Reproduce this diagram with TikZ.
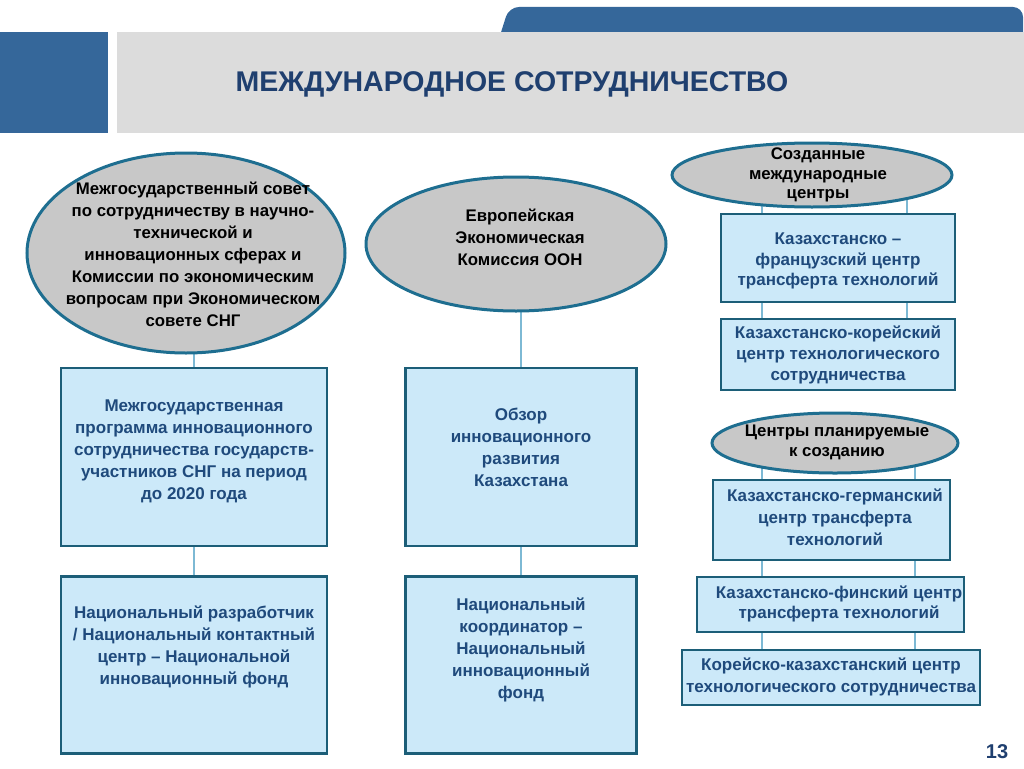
\documentclass[tikz,border=0pt]{standalone}
\usepackage{fontspec}
\setmainfont{Liberation Sans}
\usetikzlibrary{shapes.geometric,backgrounds}
\definecolor{headblue}{HTML}{35679A}
\definecolor{headgray}{HTML}{DCDCDC}
\definecolor{titleblue}{HTML}{1F3F6F}
\definecolor{ovalgray}{HTML}{C8C8C8}
\definecolor{ovalrim}{HTML}{1E6E90}
\definecolor{boxfill}{HTML}{CCE9F9}
\definecolor{boxrim}{HTML}{1C5E78}
\definecolor{boxink}{HTML}{1F4A7C}
\definecolor{linkblue}{HTML}{7DB9D4}

\begin{document}
\begin{tikzpicture}[
  x=1pt,
  y=-1pt,
  oval/.style={ellipse,draw=ovalrim,fill=ovalgray,line width=3pt,inner sep=0pt},
  box/.style={rectangle,draw=boxrim,fill=boxfill,line width=2.6pt,inner sep=0pt},
  ovaltext/.style={align=center,font=\fontsize{16.8}{22}\selectfont\bfseries,text=black},
  boxtext/.style={align=center,font=\fontsize{17}{22}\selectfont\bfseries,text=boxink},
  link/.style={draw=linkblue,line width=1.6pt}
]
  % Slide frame.
  \useasboundingbox (0,0) rectangle (1024,768);

  % Header: tab, square and grey band with the title.
  \fill[headblue,rounded corners=10pt] (497,45) -- (509,7) -- (1023,7) -- (1023,45) -- cycle;
  \fill[headblue] (0,32) rectangle (108,133);
  \fill[headgray] (117,32) rectangle (1024,133);
  \node[font=\fontsize{28.5}{30}\selectfont\bfseries,text=titleblue] (title) at (512,84)
    {МЕЖДУНАРОДНОЕ СОТРУДНИЧЕСТВО};

  % Left column: CIS council and its programme.
  \node[oval,minimum width=318pt,minimum height=200pt] (council) at (186,253) {};
  \node[ovaltext] (councilt) at (193,254) {Межгосударственный совет\\по сотрудничеству в научно-\\технической и\\инновационных сферах и\\Комиссии по экономическим\\вопросам при Экономическом\\совете СНГ};
  \node[box,minimum width=266pt,minimum height=178pt] (programme) at (194,457) {};
  \node[boxtext] (programmet) at (194,451) {Межгосударственная\\программа инновационного\\сотрудничества государств-\\участников СНГ на период\\до 2020 года};
  \node[box,minimum width=266pt,minimum height=177pt] (developer) at (194,665) {};
  \node[boxtext] (developert) at (194,647) {Национальный разработчик\\/ Национальный контактный\\центр – Национальной\\инновационный фонд};

  % Middle column: UNECE and the innovation review.
  \node[oval,minimum width=300pt,minimum height=134pt] (unece) at (516,244) {};
  \node[ovaltext] (unecet) at (520,237) {Европейская\\Экономическая\\Комиссия ООН};
  \node[box,minimum width=231pt,minimum height=178pt] (review) at (521,457) {};
  \node[boxtext] (reviewt) at (521,447) {Обзор\\инновационного\\развития\\Казахстана};
  \node[box,minimum width=231pt,minimum height=177pt] (coord) at (521,665) {};
  \node[boxtext] (coordt) at (521,650) {Национальный\\координатор –\\Национальный\\инновационный\\фонд};

  % Right column: centres already created.
  \node[oval,minimum width=280pt,minimum height=64pt] (created) at (812,175) {};
  \node[ovaltext,font=\fontsize{16.8}{19.5}\selectfont\bfseries] (createdt) at (818,175) {Созданные\\международные\\центры};
  \node[box,minimum width=234pt,minimum height=88pt] (frcentre) at (838,258) {};
  \node[boxtext,font=\fontsize{17}{20.5}\selectfont\bfseries] (frcentret) at (838,261) {Казахстанско –\\французский центр\\трансферта технологий};
  \node[box,minimum width=234pt,minimum height=71pt] (krcentre) at (838,354.5) {};
  \node[boxtext,font=\fontsize{17}{21}\selectfont\bfseries] (krcentret) at (838,355) {Казахстанско-корейский\\центр технологического\\сотрудничества};

  % Right column: centres planned.
  \node[oval,minimum width=246pt,minimum height=60pt] (planned) at (835,443) {};
  \node[ovaltext,font=\fontsize{16.8}{20}\selectfont\bfseries] (plannedt) at (837,442) {Центры планируемые\\к созданию};
  \node[box,minimum width=237pt,minimum height=80pt] (decentre) at (831.5,520) {};
  \node[boxtext] (decentret) at (835,517) {Казахстанско-германский\\центр трансферта\\технологий};
  \node[box,minimum width=267pt,minimum height=55pt] (ficentre) at (830.5,604.5) {};
  \node[boxtext,font=\fontsize{17}{20}\selectfont\bfseries] (ficentret) at (839,604) {Казахстанско-финский центр\\трансферта технологий};
  \node[box,minimum width=298pt,minimum height=55pt] (kzcentre) at (831,677.5) {};
  \node[boxtext] (kzcentret) at (831,677) {Корейско-казахстанский центр\\технологического сотрудничества};

  % Page number.
  \node[font=\fontsize{20}{22}\selectfont\bfseries,text=titleblue] (pageno) at (997,752) {13};

  % Connectors behind the shapes.
  \begin{scope}[on background layer]
    \draw[link] (programme.north |- council.center) -- (programme.north);
    \draw[link] (programme.south) -- (developer.north);
    \draw[link] (review.north |- unece.center) -- (review.north);
    \draw[link] (review.south) -- (coord.north);
    \draw[link] (762,0 |- created.center) -- (762,0 |- frcentre.north);
    \draw[link] (907,0 |- created.center) -- (907,0 |- frcentre.north);
    \draw[link] (762,0 |- frcentre.south) -- (762,0 |- krcentre.north);
    \draw[link] (907,0 |- frcentre.south) -- (907,0 |- krcentre.north);
    \draw[link] (762,0 |- planned.center) -- (762,0 |- decentre.north);
    \draw[link] (915,0 |- planned.center) -- (915,0 |- decentre.north);
    \draw[link] (762,0 |- decentre.south) -- (762,0 |- ficentre.north);
    \draw[link] (915,0 |- decentre.south) -- (915,0 |- ficentre.north);
    \draw[link] (762,0 |- ficentre.south) -- (762,0 |- kzcentre.north);
    \draw[link] (915,0 |- ficentre.south) -- (915,0 |- kzcentre.north);
  \end{scope}
\end{tikzpicture}
\end{document}
